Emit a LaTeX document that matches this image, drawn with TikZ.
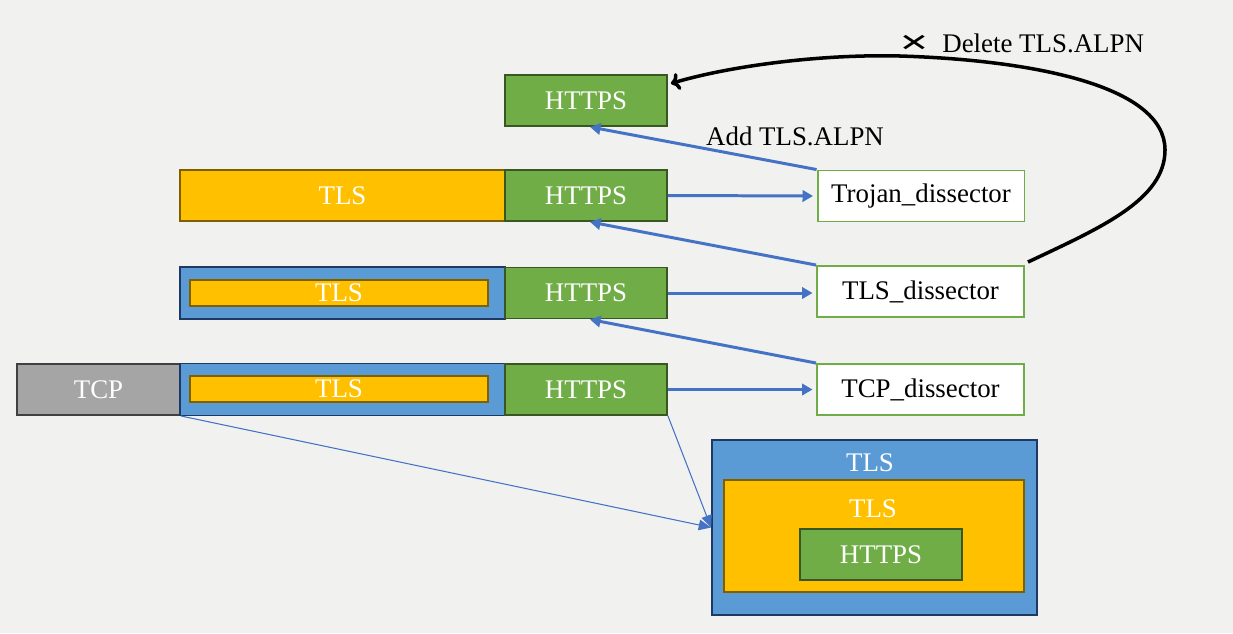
\documentclass[tikz,border=0pt]{standalone}
\usepackage{fontspec}
\setmainfont{Liberation Serif}
\newfontfamily\symfont{DejaVu Sans}
\usetikzlibrary{arrows.meta}

\definecolor{bgcol}{HTML}{F1F1EF}
\definecolor{httpsgreen}{HTML}{70AD47}
\definecolor{httpsdark}{HTML}{385723}
\definecolor{tlsyellow}{HTML}{FFC000}
\definecolor{tlsdark}{HTML}{7F6000}
\definecolor{recblue}{HTML}{5B9BD5}
\definecolor{recdark}{HTML}{1F3864}
\definecolor{tcpgrey}{HTML}{A5A5A5}
\definecolor{tcpdark}{HTML}{404040}
\definecolor{arrowblue}{HTML}{4472C4}

\tikzset{
    box/.style={draw, line width=1.1pt, inner sep=0pt, text=white,
        font=\fontsize{15.3}{18}\selectfont},
    httpsbox/.style={box, fill=httpsgreen, draw=httpsdark,
        minimum width=3.24cm, minimum height=1.02cm},
    tlsbox/.style={box, fill=tlsyellow, draw=tlsdark},
    recbox/.style={box, fill=recblue, draw=recdark},
    tcpbox/.style={box, fill=tcpgrey, draw=tcpdark,
        minimum width=3.26cm, minimum height=1.02cm},
    dissector/.style={draw=httpsgreen, fill=white, line width=1.1pt,
        minimum width=4.14cm, minimum height=1.02cm, inner sep=0pt,
        font=\fontsize{15.3}{18}\selectfont},
    plain/.style={font=\fontsize{15.3}{18}\selectfont, inner sep=0pt},
    feed/.style={draw=arrowblue, line width=1.7pt,
        -{Triangle[length=6pt,width=6.5pt]}},
    thinfeed/.style={draw=arrowblue, line width=0.6pt,
        -{Triangle[length=7pt,width=6pt]}},
}

\begin{document}
\begin{tikzpicture}[x=0.02cm, y=-0.02cm]
    % background
    \fill[bgcol] (0,0) rectangle (1233,633);

    % packet rows
    \node[httpsbox] (https0) at (586,100.5) {HTTPS};

    \node[tlsbox, minimum width=6.5cm, minimum height=1.02cm] (tls1) at (342.5,195.5) {TLS};
    \node[httpsbox] (https1) at (586,195.5) {HTTPS};

    \node[recbox, minimum width=6.5cm, minimum height=1.04cm] (rec2) at (342.5,293) {};
    \node[tlsbox, minimum width=5.96cm, minimum height=0.52cm] (tls2) at (339,293) {TLS};
    \node[httpsbox] (https2) at (586,293) {HTTPS};

    \node[tcpbox] (tcp3) at (98.5,389.5) {TCP};
    \node[recbox, minimum width=6.5cm, minimum height=1.04cm] (rec3) at (342.5,389.5) {};
    \node[tlsbox, minimum width=5.96cm, minimum height=0.52cm] (tls3) at (339,389) {TLS};
    \node[httpsbox] (https3) at (586,389.5) {HTTPS};

    % dissectors
    \node[dissector] (trojan) at (921,196) {Trojan\_dissector};
    \node[dissector] (tlsdis) at (920.5,291.5) {TLS\_dissector};
    \node[dissector] (tcpdis) at (920.5,389.5) {TCP\_dissector};

    % nested record
    \node[recbox, minimum width=6.5cm, minimum height=3.5cm] (outer) at (874.5,527.5) {};
    \node[plain, text=white] (outerlabel) at (870,463) {TLS};
    \node[tlsbox, minimum width=6cm, minimum height=2.24cm] (middle) at (874,536) {};
    \node[plain, text=white] (middlelabel) at (873,509) {TLS};
    \node[httpsbox] (inner) at (881,554.5) {HTTPS};

    % labels
    \node[plain] (add) at (795,136) {Add TLS.ALPN};
    \node[inner sep=0pt, font=\symfont\bfseries\fontsize{14}{18}\selectfont] (delx) at (914,43)
        {\scalebox{1.5}[1]{✕}};
    \node[plain, anchor=west] (del) at (942,43) {Delete TLS.ALPN};

    % feeding
    \draw[feed, shorten >=2pt] (https1.east) -- (trojan.west);
    \draw[feed, shorten >=2pt] (https2.east) -- (https2.east -| tlsdis.west);
    \draw[feed, shorten >=2pt] (https3.east) -- (tcpdis.west);

    % results
    \draw[feed] (trojan.north west) -- ([shift={(4,0)}]https0.south);
    \draw[feed] (tlsdis.north west) -- ([shift={(4,0)}]https1.south);
    \draw[feed] (tcpdis.north west) -- ([shift={(4,0)}]https2.south);

    % unpacking
    \draw[thinfeed] (tcp3.south east) -- (outer.west);
    \draw[thinfeed] (https3.south east) -- (outer.west);

    % removed step
    \draw[line width=2pt, -{To[length=5pt,width=10pt]}]
        ([shift={(3,-3)}]tlsdis.north east)
        .. controls (1100,228) and (1165,200) .. (1165,150)
        .. controls (1165,85) and (1030,60) .. (900,56)
        .. controls (820,54) and (730,66) .. ([shift={(3,-17)}]https0.east);
\end{tikzpicture}
\end{document}
